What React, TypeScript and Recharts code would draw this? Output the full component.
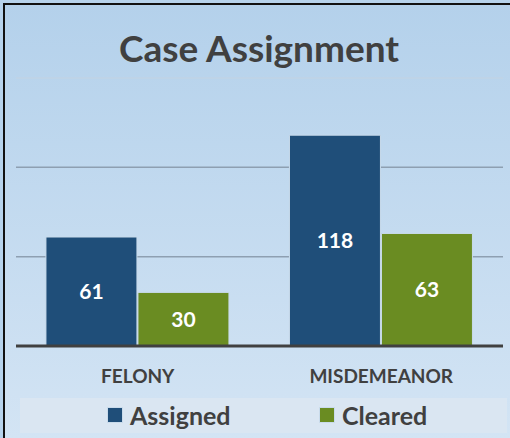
import React from 'react';
import { BarChart, Bar, XAxis, YAxis, CartesianGrid, LabelList, ReferenceLine } from 'recharts';

const categories = ['FELONY', 'MISDEMEANOR'];
const assigned = [61, 118];
const cleared = [30, 63];
const yTicks = [0, 50, 100, 150];
const seriesNames = ['Assigned', 'Cleared'];
const seriesColors = ['#1F4E79', '#6A8C22'];

const data = categories.map((c, i) => ({ category: c, Assigned: assigned[i], Cleared: cleared[i] }));

const FONT = 'Lato, "Open Sans", sans-serif';

const CatTick = (props: any) => {
  const { x, y, payload } = props;
  return (
    <text x={x} y={y + 29} textAnchor="middle" fill="#404040" fontSize={19} fontWeight={700} fontFamily={FONT}>
      {payload.value}
    </text>
  );
};

export default function App() {
  return (
    <div style={{ position: 'absolute', left: 0, top: 0, width: 510, height: 438, background: '#b7d3ec', overflow: 'hidden' }}>
      <div
        style={{
          position: 'absolute', left: 3, top: 3, right: 0, bottom: 0,
          borderLeft: '2px solid #111', borderTop: '2px solid #111',
          background: 'linear-gradient(#b4d1eb, #d3e4f4)',
        }}
      />
      <div
        style={{
          position: 'absolute', left: 8, right: 0, top: 23, textAlign: 'center',
          fontFamily: FONT, fontWeight: 700, fontSize: 37, color: '#404040', lineHeight: '50px',
        }}
      >
        Case Assignment
      </div>
      <div style={{ position: 'absolute', left: 0, top: 0 }}>
        <BarChart
          width={510}
          height={438}
          data={data}
          margin={{ top: 78, right: 7, left: 16, bottom: 52 }}
          barCategoryGap="12.3%"
          barGap={1}
        >
          <CartesianGrid horizontal vertical={false} horizontalValues={[50, 100]} stroke="#8e9fb1" strokeWidth={1.5} />
          <ReferenceLine y={150} stroke="#c3d3e2" strokeWidth={1} />
          <YAxis hide domain={[0, 150]} ticks={yTicks} />
          <XAxis
            dataKey="category"
            height={40}
            tickLine={false}
            axisLine={{ stroke: '#404040', strokeWidth: 3 }}
            tick={<CatTick />}
            interval={0}
          />
          {seriesNames.map((s, i) => (
            <Bar key={s} dataKey={s} fill={seriesColors[i]} stroke="#c9dbeb" strokeWidth={1} isAnimationActive={false}>
              <LabelList dataKey={s} position="center" fill="#ffffff" fontSize={21} fontWeight={700} fontFamily={FONT} />
            </Bar>
          ))}
        </BarChart>
      </div>
      <div
        style={{
          position: 'absolute', left: 20, top: 398, width: 487, height: 35, background: '#dae6f2',
        }}
      />
      {seriesNames.map((s, i) => (
        <div
          key={s}
          style={{
            position: 'absolute', left: i === 0 ? 107 : 319, top: 397, height: 35,
            display: 'flex', alignItems: 'center', fontFamily: FONT, fontWeight: 700, fontSize: 25, color: '#404040',
          }}
        >
          <span style={{ display: 'inline-block', width: 14, height: 14, background: seriesColors[i], border: '1px solid #c9dbeb', marginRight: 7 }} />
          {s}
        </div>
      ))}
    </div>
  );
}
